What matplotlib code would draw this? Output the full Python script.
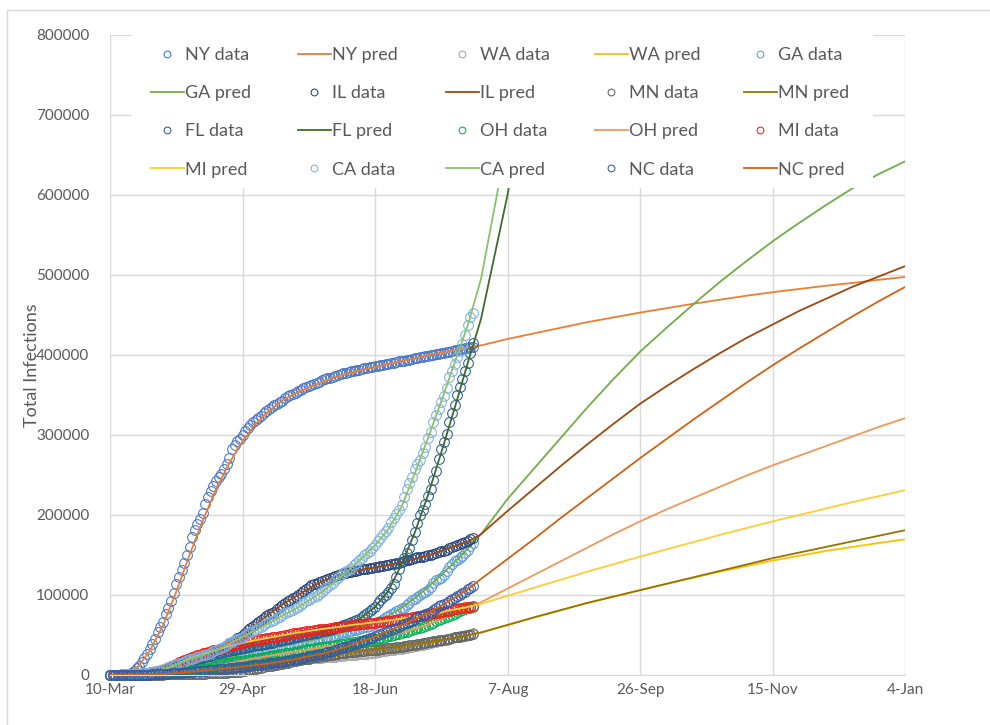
import numpy as np
import matplotlib
matplotlib.use('Agg')
import matplotlib.pyplot as plt
from matplotlib.legend import Legend
from matplotlib.patches import Rectangle
from matplotlib.ticker import FuncFormatter

# cumulative confirmed infections in thousands, one value per day starting 10-Mar
ny_data = [0.2, 0.2, 0.3, 0.4, 0.5, 0.7, 1.0, 1.7, 2.5, 5.4, 8.3, 11.7, 15.8, 20.9, 25.7, 33.1, 39.0, 44.6, 53.4, 59.5, 66.7, 75.8,
	83.7, 92.5, 103.0, 113.8, 122.9, 131.8, 140.1, 150.3, 160.5, 172.3, 181.0, 189.0, 195.0, 202.2, 213.8, 222.3, 229.6, 236.7, 242.8, 247.5, 251.7, 257.2, 263.5, 271.6, 282.1, 288.0, 292.0, 295.1, 299.7, 304.4,
	308.3, 313.0, 316.4, 319.0, 321.2, 323.9, 327.5, 330.4, 333.1, 335.4, 337.1, 338.5, 340.7, 343.1, 345.8, 348.2, 350.1, 351.4, 352.8, 354.4, 356.5, 358.2, 360.0, 361.5, 362.8, 363.8, 365.0, 366.7, 368.3, 369.7, 370.8,
	371.7, 373.0, 374.1, 375.1, 376.2, 377.3, 378.1, 378.8, 379.5, 380.3, 381.0, 381.7, 382.6, 383.3, 383.9, 384.6, 385.2, 385.8, 386.6, 387.3, 387.9, 388.5, 389.1, 389.7, 390.4, 391.2, 391.9, 392.5, 393.0, 393.5,
	394.1, 394.9, 395.7, 396.4, 397.1, 397.6, 398.2, 398.8, 399.5, 400.3, 401.0, 401.7, 402.2, 402.8, 403.5, 404.3, 405.1, 405.8, 406.5, 407.0, 407.5, 408.2, 408.9, 409.7, 410.5]
wa_data = [0.27, 0.37, 0.46, 0.57, 0.64, 0.77, 0.9, 1.0, 1.2, 1.4, 1.5, 1.8, 2.0, 2.2, 2.5, 2.6, 3.2, 3.7, 4.3, 4.3, 4.9, 5.3,
	6.0, 6.6, 7.1, 7.5, 7.9, 8.4, 8.7, 9.3, 9.7, 10.2, 10.4, 10.6, 10.8, 10.9, 11.0, 11.4, 11.7, 12.0, 12.3, 12.5, 12.8, 12.9, 13.0, 13.3, 13.6, 13.7, 13.8, 14.1, 14.3, 14.6,
	15.0, 15.2, 15.5, 15.6, 15.8, 16.0, 16.2, 16.4, 16.6, 16.9, 17.1, 17.3, 17.5, 17.8, 18.0, 18.4, 18.6, 18.8, 19.0, 19.3, 19.6, 19.8, 20.1, 20.4, 20.7, 20.9, 21.1, 21.4, 21.7, 22.0, 22.2,
	22.5, 22.7, 23.0, 23.4, 23.7, 24.0, 24.4, 24.7, 24.9, 25.2, 25.5, 25.8, 26.2, 26.5, 26.8, 27.2, 27.6, 28.1, 28.7, 29.2, 29.8, 30.3, 30.7, 31.1, 31.6, 32.1, 32.7, 33.1, 33.7, 34.2,
	34.8, 35.6, 36.1, 36.6, 37.4, 37.9, 38.6, 39.2, 40.0, 40.7, 41.4, 42.3, 43.0, 43.7, 44.3, 45.2, 46.0, 46.9, 47.6, 48.4, 49.2, 49.9, 50.6, 51.4, 52.1]
ga_data = [0.02, 0.03, 0.03, 0.04, 0.07, 0.1, 0.12, 0.15, 0.2, 0.29, 0.49, 0.55, 0.6, 0.8, 1.1, 1.5, 2.0, 2.4, 2.7, 2.8, 3.0, 4.6,
	5.3, 5.9, 6.4, 6.7, 7.3, 7.6, 9.2, 9.9, 10.9, 11.8, 12.2, 12.6, 12.9, 14.2, 15.0, 15.6, 16.5, 17.4, 18.3, 19.4, 20.2, 21.2, 21.9, 22.6, 23.2, 23.7, 24.2, 24.9, 25.8, 26.4,
	27.5, 28.5, 28.9, 29.4, 30.0, 30.7, 31.5, 32.1, 32.6, 33.0, 33.8, 34.3, 34.9, 35.5, 36.4, 37.0, 37.6, 38.3, 38.9, 39.6, 40.6, 41.8, 42.5, 43.0, 43.3, 43.7, 44.3, 45.0, 46.0, 46.9, 47.0,
	47.7, 49.0, 50.0, 50.9, 51.9, 53.2, 53.7, 54.2, 54.8, 55.8, 56.7, 57.8, 58.9, 59.9, 60.4, 61.4, 62.8, 64.1, 66.0, 68.1, 70.3, 71.9, 73.2, 75.8, 77.2, 79.4, 81.3, 84.2, 84.2, 87.7,
	90.5, 94.0, 95.6, 97.1, 100.5, 102.0, 104.1, 106.7, 110.0, 114.5, 118.3, 119.9, 121.6, 125.6, 129.6, 135.1, 138.9, 142.9, 144.0, 145.9, 148.6, 152.5, 156.4, 161.4, 165.2]
il_data = [0.02, 0.03, 0.03, 0.05, 0.06, 0.09, 0.1, 0.16, 0.29, 0.42, 0.59, 0.75, 1.05, 1.29, 1.54, 1.87, 2.54, 3.03, 3.49, 4.6, 5.06, 5.99,
	6.98, 7.7, 8.9, 10.4, 11.3, 12.3, 13.5, 15.1, 16.3, 17.8, 19.2, 20.8, 22.0, 23.2, 24.6, 25.7, 27.6, 29.2, 30.4, 31.5, 33.1, 35.1, 36.9, 39.7, 41.8, 43.9, 45.9, 48.1, 50.4, 52.9,
	56.1, 58.5, 61.5, 63.8, 65.9, 68.2, 70.9, 73.8, 76.1, 77.7, 79.0, 83.0, 84.7, 87.9, 90.4, 92.5, 94.2, 96.5, 98.0, 100.4, 102.7, 105.4, 107.8, 110.3, 112.0, 113.2, 114.3, 115.8, 117.5, 118.9, 120.3,
	121.2, 122.8, 123.8, 124.8, 125.9, 126.9, 127.8, 128.4, 129.2, 129.8, 130.6, 131.2, 131.9, 132.5, 133.0, 133.6, 134.2, 134.8, 135.4, 136.1, 136.8, 137.2, 137.8, 138.5, 139.2, 139.9, 140.5, 141.3, 142.0, 143.2,
	144.0, 145.2, 146.0, 146.9, 147.3, 147.9, 148.5, 149.4, 150.6, 151.8, 152.9, 153.9, 154.8, 155.5, 156.7, 158.2, 159.8, 161.3, 162.2, 163.3, 164.6, 166.3, 168.0, 169.8, 171.1]
mn_data = [0.003, 0.005, 0.009, 0.014, 0.021, 0.035, 0.054, 0.06, 0.077, 0.089, 0.115, 0.137, 0.169, 0.235, 0.262, 0.287, 0.346, 0.398, 0.441, 0.503, 0.576, 0.629,
	0.69, 0.74, 0.79, 0.87, 0.94, 0.99, 1.07, 1.15, 1.24, 1.34, 1.43, 1.5, 1.62, 1.7, 1.81, 1.91, 2.07, 2.21, 2.36, 2.47, 2.57, 2.72, 2.94, 3.19, 3.45, 3.6, 3.82, 4.18, 4.64, 5.14,
	5.73, 6.23, 7.23, 7.85, 8.58, 9.37, 10.09, 10.79, 11.27, 11.8, 12.49, 12.92, 13.43, 14.24, 14.97, 15.62, 16.37, 17.03, 17.67, 18.2, 18.72, 19.49, 20.31, 20.57, 21.32, 21.96, 22.46, 22.95, 23.53, 24.19, 24.85,
	25.21, 25.51, 25.87, 26.27, 26.98, 27.5, 27.89, 28.22, 28.52, 28.87, 29.32, 29.79, 30.17, 30.47, 30.69, 30.88, 31.29, 31.68, 31.68, 32.47, 32.92, 33.23, 33.47, 33.76, 34.12, 34.61, 35.03, 35.55, 36.3, 36.72,
	37.2, 37.6, 38.1, 38.6, 39.1, 39.6, 40.2, 40.8, 41.4, 42.1, 42.8, 43.2, 43.7, 44.3, 45.0, 45.5, 46.2, 46.9, 47.4, 47.9, 48.4, 49.0, 49.7, 50.3, 50.9]
fl_data = [0.03, 0.04, 0.05, 0.08, 0.1, 0.14, 0.16, 0.2, 0.3, 0.4, 0.5, 0.8, 1.0, 1.2, 1.4, 1.7, 2.4, 2.9, 3.8, 4.2, 5.5, 6.9,
	7.8, 9.0, 10.3, 11.5, 12.4, 13.3, 14.7, 15.7, 16.4, 17.9, 18.9, 19.9, 21.0, 21.6, 22.5, 23.3, 24.1, 25.3, 26.3, 27.1, 27.9, 28.6, 29.6, 30.5, 30.8, 31.5, 32.1, 32.8, 33.2, 33.7,
	34.7, 35.4, 36.1, 36.9, 37.4, 38.0, 38.8, 39.2, 40.0, 40.6, 41.0, 41.9, 42.4, 43.2, 44.0, 44.8, 45.6, 46.4, 46.9, 47.5, 48.7, 49.5, 50.1, 51.0, 51.7, 52.3, 52.6, 53.3, 54.5, 55.4, 56.2,
	56.8, 57.4, 58.8, 60.2, 61.5, 63.0, 63.9, 64.9, 66.0, 67.4, 69.1, 70.0, 72.0, 75.6, 77.3, 80.1, 82.7, 85.5, 89.7, 93.8, 97.4, 100.2, 103.5, 109.0, 114.0, 122.9, 132.5, 141.1, 146.3, 152.4,
	158.9, 169.1, 178.6, 190.1, 200.1, 206.4, 213.8, 223.8, 232.7, 244.2, 254.5, 269.8, 282.4, 291.6, 301.8, 315.8, 327.2, 337.6, 350.0, 360.4, 369.8, 379.6, 389.9, 402.3, 414.5]
oh_data = [0.003, 0.004, 0.005, 0.005, 0.013, 0.037, 0.05, 0.067, 0.088, 0.119, 0.169, 0.247, 0.351, 0.442, 0.564, 0.704, 0.867, 1.137, 1.406, 1.653, 1.933, 2.199,
	2.5, 2.9, 3.3, 3.7, 4.0, 4.5, 5.0, 5.1, 5.5, 5.9, 6.2, 6.6, 6.9, 7.3, 7.8, 8.4, 9.1, 10.2, 11.6, 12.9, 13.7, 14.7, 15.2, 15.6, 16.3, 16.8, 17.3, 17.8, 18.0, 18.7,
	19.3, 19.9, 20.5, 20.5, 20.9, 21.6, 22.1, 22.9, 23.7, 24.1, 24.8, 25.2, 25.7, 26.4, 26.9, 27.5, 28.0, 28.5, 28.9, 29.4, 30.2, 30.8, 31.9, 32.5, 32.9, 33.3, 33.9, 34.6, 35.0, 35.5, 35.5,
	36.4, 36.8, 37.3, 37.9, 38.5, 38.9, 39.6, 40.0, 40.4, 40.9, 41.4, 41.9, 42.4, 42.9, 43.1, 43.6, 44.2, 44.8, 45.5, 46.1, 46.8, 47.7, 48.2, 49.0, 49.9, 50.8, 51.8, 52.9, 53.3, 53.8,
	55.3, 56.4, 57.2, 58.2, 59.1, 59.6, 60.9, 62.5, 63.7, 64.9, 66.9, 68.6, 69.8, 70.7, 72.3, 74.0, 75.3, 76.8, 78.7, 79.8, 80.9, 82.1, 83.2, 84.2, 85.1]
mi_data = [0.0, 0.0, 0.01, 0.02, 0.03, 0.05, 0.07, 0.08, 0.1, 0.3, 0.5, 0.8, 1.0, 1.3, 1.8, 2.3, 2.9, 3.7, 4.7, 5.5, 6.5, 7.6,
	9.3, 10.8, 12.7, 14.2, 15.7, 17.2, 18.9, 20.3, 21.5, 22.8, 23.9, 24.6, 25.6, 27.0, 28.1, 29.3, 30.0, 30.8, 31.4, 32.0, 32.9, 33.9, 35.3, 36.6, 37.2, 37.8, 38.2, 39.3, 40.4, 41.4,
	42.4, 43.2, 43.8, 44.0, 44.4, 45.1, 45.6, 46.3, 46.8, 47.1, 47.6, 48.0, 48.4, 49.0, 50.0, 50.5, 51.1, 51.9, 52.3, 53.0, 53.5, 54.0, 54.9, 55.3, 55.6, 55.9, 56.0, 56.9, 57.4, 57.7, 58.0,
	58.5, 59.0, 59.6, 60.1, 60.5, 61.0, 61.4, 61.8, 62.3, 62.8, 63.1, 63.4, 63.7, 64.0, 64.4, 64.7, 65.1, 65.5, 65.9, 66.3, 66.7, 67.1, 67.5, 68.1, 68.5, 68.9, 69.5, 70.0, 70.5, 71.1,
	71.7, 72.2, 72.8, 73.3, 73.8, 74.3, 74.9, 75.6, 76.3, 77.0, 77.6, 78.1, 78.6, 79.2, 79.9, 80.6, 81.3, 82.0, 82.6, 83.2, 83.8, 84.4, 85.0, 85.6, 86.2]
ca_data = [0.2, 0.2, 0.2, 0.3, 0.4, 0.4, 0.6, 0.7, 0.9, 1.1, 1.3, 1.6, 2.0, 2.5, 2.8, 3.2, 4.0, 4.9, 5.6, 6.3, 7.4, 8.6,
	9.8, 11.0, 12.0, 13.4, 14.5, 15.6, 16.8, 18.3, 19.6, 20.6, 21.8, 22.8, 23.7, 24.4, 25.6, 26.7, 28.1, 29.4, 30.8, 32.1, 33.7, 35.4, 37.3, 39.5, 41.3, 43.4, 44.9, 46.2, 48.0, 50.0,
	51.9, 53.9, 55.1, 56.2, 58.3, 60.4, 62.4, 64.6, 66.2, 67.6, 68.9, 70.9, 72.9, 74.9, 76.9, 78.8, 80.4, 81.7, 83.4, 85.5, 87.4, 89.8, 92.2, 94.0, 95.9, 97.0, 99.0, 101.6, 104.2, 108.0, 110.6,
	113.0, 115.6, 118.2, 121.5, 124.5, 127.4, 129.6, 131.6, 134.3, 137.2, 140.1, 143.3, 146.2, 149.7, 152.0, 155.1, 159.0, 162.9, 167.3, 171.6, 176.4, 179.6, 183.7, 190.8, 196.6, 201.1, 206.6, 212.2, 222.9, 232.7,
	240.3, 247.0, 258.1, 264.0, 269.0, 277.8, 285.4, 296.5, 304.3, 315.7, 324.4, 331.9, 341.1, 348.7, 359.3, 371.9, 380.2, 389.1, 397.7, 404.9, 413.5, 425.6, 437.0, 447.3, 452.0]
nc_data = [0.007, 0.007, 0.015, 0.024, 0.032, 0.038, 0.04, 0.06, 0.09, 0.13, 0.18, 0.25, 0.3, 0.35, 0.4, 0.5, 0.64, 0.76, 0.93, 1.1, 1.3, 1.5,
	1.6, 1.9, 2.1, 2.4, 2.6, 2.9, 3.2, 3.4, 3.7, 4.3, 4.5, 4.8, 5.0, 5.2, 5.5, 5.9, 6.1, 6.5, 6.8, 7.0, 7.2, 7.6, 8.0, 8.6, 8.8, 9.2, 9.5, 10.0, 10.3, 10.5,
	11.1, 11.6, 12.0, 12.3, 12.7, 13.0, 13.4, 13.9, 14.5, 15.0, 15.3, 15.7, 16.0, 16.5, 17.1, 18.0, 18.8, 19.4, 19.9, 20.3, 20.9, 21.7, 22.8, 23.7, 24.1, 24.7, 25.2, 25.8, 26.5, 27.4, 28.6,
	29.3, 30.1, 31.0, 32.1, 33.3, 34.6, 35.3, 36.1, 37.2, 38.2, 39.3, 40.5, 42.0, 43.4, 44.6, 45.7, 46.6, 48.2, 49.8, 51.4, 52.8, 54.3, 55.4, 56.2, 57.2, 58.9, 60.5, 62.1, 63.5, 64.7,
	66.5, 68.1, 70.3, 72.1, 73.3, 74.6, 75.8, 77.3, 79.3, 81.4, 83.8, 85.7, 87.5, 88.3, 90.1, 92.3, 94.6, 96.6, 98.6, 100.2, 102.0, 104.3, 106.9, 109.1, 111.8]

# fitted model curves in thousands, sampled on pred_days (days after 10-Mar)
pred_days = list(range(0, 140, 5)) + list(range(140, 301, 10))
nan = np.nan
ny_pred = [0.2, 1.5, 8, 30, 62, 104, 150, 193, 232, 265, 292, 314, 330, 343, 352, 359, 366, 372, 377, 381, 385, 389, 392.5, 396, 400, 403, 406.5, 409.5,
	412, 420, 427, 434, 441, 447, 453, 458.5, 464, 469, 474, 478.5, 482.5, 486.5, 490, 494, 497.5]
wa_pred = [0.3, 0.8, 1.6, 2.8, 4.2, 6.5, 8.6, 10.3, 11.5, 12.6, 14, 15.5, 16.8, 18, 19.3, 20.6, 21.8, 23.5, 25, 26.6, 28.5, 30.8, 33.2, 36, 39.2, 42.8, 46.2, 50,
	53.5, 62.5, 72, 81, 90, 98, 106, 114, 121.5, 129, 136, 143, 149, 155, 160, 165, 169.5]
ga_pred = [0, 0.1, 0.5, 1.5, 3, 6, 10, 14, 18.5, 22.5, 26.5, 30, 33, 36.5, 40, 43, 46.5, 50.5, 55, 60, 66, 74, 84, 96, 110, 125, 141, 158,
	176, 220, 258, 296, 334, 370, 404, 434, 463, 491, 517, 542, 565, 587, 608, 626, 642]
il_pred = [0, 0.1, 0.5, 1.5, 5, 9, 16, 22.5, 30, 40, 50, 63, 76, 88, 98, 108, 117, 123.5, 128, 131.5, 134.5, 137.5, 141, 145, 149.5, 155, 161, 166.5,
	176, 205, 233, 261, 288, 314, 339, 361, 382, 402, 421, 438, 455, 470, 485, 498, 511]
mn_pred = [0, 0.03, 0.1, 0.3, 0.5, 0.9, 1.3, 1.8, 2.5, 3.5, 5, 8.5, 11.5, 14.5, 17.5, 20.5, 23.5, 26, 28.3, 30.5, 32.5, 34.5, 36.5, 39, 41.5, 44, 46.5, 49.5,
	53, 62.5, 72, 81, 90, 98, 106, 114, 122, 130, 138, 146, 153, 160, 167, 174, 181]
fl_pred = [0, 0.1, 0.5, 2, 5, 10, 16, 21.5, 26, 30, 33.5, 37, 40, 43.5, 47, 50, 53.5, 58, 64, 72, 85, 105, 138, 178, 225, 278, 333, 390,
	445, 600, 790, nan, nan, nan, nan, nan, nan, nan, nan, nan, nan, nan, nan, nan, nan]
oh_pred = [0, 0.04, 0.2, 0.7, 1.7, 3.5, 5.5, 7.5, 10.5, 14.5, 18, 21, 24, 27, 29.5, 32, 34.7, 37.5, 40, 42.5, 45, 48.5, 53, 58, 63, 69.5, 77, 84,
	91, 108, 125, 142, 159, 176, 192, 207, 221, 235, 249, 262, 274, 286, 298, 310, 321]
mi_pred = [0, 0.05, 0.5, 2.3, 5.5, 13, 21, 27, 31.5, 36, 40, 43.5, 46.5, 49.5, 52.5, 55, 57.5, 59.5, 62, 64, 66, 68, 70.5, 73, 75.5, 78.5, 82, 85,
	89, 99, 109, 119, 129, 138.5, 148, 157, 166, 175, 183.5, 192, 200, 208, 216, 223.5, 231]
ca_pred = [0.2, 0.4, 1.1, 2.8, 7, 13, 19.5, 25, 31, 39, 47.5, 56, 65, 74, 83, 93, 104, 117, 131, 146, 162, 182, 210, 252, 296, 342, 390, 437,
	495, 670, 880, nan, nan, nan, nan, nan, nan, nan, nan, nan, nan, nan, nan, nan, nan]
nc_pred = [0, 0.04, 0.2, 0.5, 1.1, 2.3, 3.7, 5.3, 6.8, 8.6, 10.3, 12.5, 14.5, 17, 20, 23.5, 26.5, 31, 36, 42, 48, 55, 62, 69.5, 77.5, 86.5, 96.5, 107,
	120, 145, 170, 196, 221, 246, 271, 295, 319, 342, 365, 387, 408, 428, 448, 467, 485]

states = ['NY', 'WA', 'GA', 'IL', 'MN', 'FL', 'OH', 'MI', 'CA', 'NC']
data_colors = ['#4472C4', '#A5A5A5', '#5B9BD5', '#264478', '#636363', '#255E91', '#00B050', '#F0201A', '#7CAFDD', '#335AA1']
pred_colors = ['#ED7D31', '#FFC000', '#70AD47', '#9E480E', '#997300', '#43682B', '#F1975A', '#FFCD33', '#8CC168', '#D26012']

tick_days = [0, 50, 100, 150, 200, 250, 300]
tick_labels = ['10-Mar', '29-Apr', '18-Jun', '7-Aug', '26-Sep', '15-Nov', '4-Jan']
y_ticks = [0, 100000, 200000, 300000, 400000, 500000, 600000, 700000, 800000]

series = {
	'NY': (ny_data, ny_pred), 'WA': (wa_data, wa_pred), 'GA': (ga_data, ga_pred),
	'IL': (il_data, il_pred), 'MN': (mn_data, mn_pred), 'FL': (fl_data, fl_pred),
	'OH': (oh_data, oh_pred), 'MI': (mi_data, mi_pred), 'CA': (ca_data, ca_pred),
	'NC': (nc_data, nc_pred),
}

text_color = '#595959'
grid_color = '#D9D9D9'

plt.rcParams['font.family'] = ['Lato', 'DejaVu Sans']

fig = plt.figure(figsize=(9.9, 7.25), dpi=100)
ax = fig.add_axes([110 / 990, 50 / 725, 795 / 990, 640 / 725])

handles = []
for state, dcol, pcol in zip(states, data_colors, pred_colors):
	data, pred = series[state]
	days = np.arange(len(data))
	h1, = ax.plot(days, np.array(data) * 1000, ls='none', marker='o', ms=7,
				  mfc='none', mec=dcol, mew=0.75, clip_on=False, label=state + ' data')
	h2, = ax.plot(pred_days, np.array(pred) * 1000, color=pcol, lw=1.3,
				  label=state + ' pred')
	handles += [h1, h2]

ax.set_xlim(0, 300)
ax.set_ylim(0, 800000)
ax.set_xticks(tick_days)
ax.set_xticklabels(tick_labels)
ax.set_yticks(y_ticks)
ax.yaxis.set_major_formatter(FuncFormatter(lambda v, p: '%d' % v))
ax.tick_params(length=0, labelsize=11, labelcolor=text_color)
ax.tick_params(axis='y', pad=15)
ax.tick_params(axis='x', pad=6)
ax.grid(True, color=grid_color, lw=1.0)
ax.set_axisbelow(True)
for side in ['left', 'right', 'top']:
	ax.spines[side].set_visible(False)
ax.spines['bottom'].set_color(grid_color)

ax.set_ylabel('Total Infections', fontsize=13, color=text_color)
ax.yaxis.set_label_coords(-0.088, 0.484)

# white panel behind the legend hides grid and lines under it
ax.add_patch(Rectangle((22 / 795, 487 / 640), 741 / 795, 160 / 640,
					   transform=ax.transAxes, facecolor='white',
					   edgecolor='none', zorder=4, clip_on=False))

# legend reads across rows: one single-column legend per slot
ncol = 5
col_x = [151, 298, 446, 595, 744]
for c in range(ncol):
	col = handles[c::ncol]
	leg = Legend(ax, col, [h.get_label() for h in col],
				 loc='upper left', bbox_to_anchor=((col_x[c] - 110) / 795, 628 / 640),
				 bbox_transform=ax.transAxes,
				 fontsize=13, labelcolor=text_color, frameon=False,
				 borderaxespad=0, borderpad=0, handlelength=1.8,
				 handletextpad=0.1, labelspacing=1.23, markerscale=0.7)
	ax.add_artist(leg)

fig.patches.append(Rectangle((7 / 990, -0.05), 1.2, 1.05 - 10 / 725,
							 transform=fig.transFigure, fill=False,
							 edgecolor=grid_color, lw=1.0))

fig.savefig('out.png', dpi=100)
